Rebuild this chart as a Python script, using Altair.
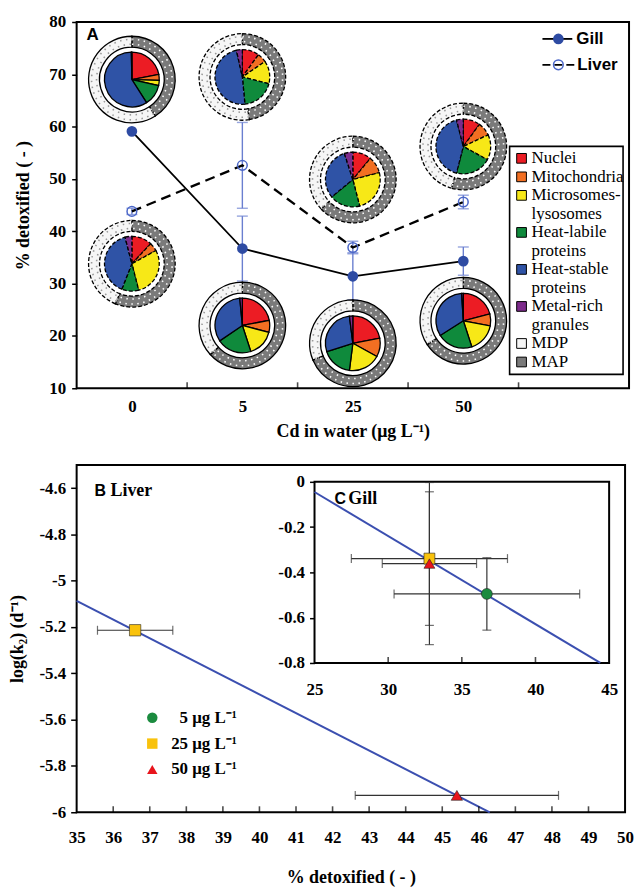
import json
import numpy as np
import pandas as pd
import altair as alt

SERIF = "Liberation Serif"
SANS = "Liberation Sans"

# ---------------- Panel A data ----------------
cd_levels = ["0", "5", "25", "50"]
gill_detox = [59.1, 36.7, 31.4, 34.3]
gill_err = [0.0, 6.2, 4.5, 2.7]
liver_detox = [43.8, 52.6, 36.9, 45.6]
liver_err = [0.6, 8.2, 1.2, 1.3]

fraction_names = ["Nuclei", "Mitochondria", "Microsomes-lysosomes",
                  "Heat-labile proteins", "Heat-stable proteins", "Metal-rich granules"]
pool_names = ["MDP", "MAP"]

# subcellular distribution (%) for each Cd level, in the order of fraction_names
gill_fractions = [
    [22.0, 3.5, 3.0, 12.5, 58.7, 0.3],
    [22.0, 7.0, 16.0, 20.5, 33.0, 1.5],
    [22.0, 11.0, 19.0, 18.0, 28.0, 2.0],
    [21.0, 7.0, 17.0, 21.0, 33.0, 1.0],
]
liver_fractions = [
    [12.0, 5.0, 29.0, 10.0, 40.0, 4.0],
    [10.0, 5.5, 13.5, 19.5, 48.0, 3.5],
    [11.0, 10.0, 25.0, 18.0, 31.0, 5.0],
    [10.0, 8.0, 15.0, 21.0, 42.0, 4.0],
]
# vertical placement of each pie (in % detoxified units)
gill_pie_y = [69.0, 22.0, 18.6, 22.9]
liver_pie_y = [33.8, 69.5, 49.9, 56.2]

# ---------------- Panel B (liver) data ----------------
liver_conc = ["25", "50"]
liver_pct = [36.6, 45.4]
liver_pct_err = [1.03, 2.78]
liver_logk = [-5.214, -5.927]
liver_fit_x = [35.0, 46.3]
liver_fit_y = [-5.087, -6.0]

# ---------------- Panel C (gill inset) data ----------------
gill_conc = ["5", "25", "50"]
gill_pct = [36.7, 32.8, 32.8]
gill_pct_err = [6.3, 5.3, 3.2]
gill_logk = [-0.495, -0.339, -0.361]
gill_logk_err = [0.16, 0.295, 0.358]
gill_fit_x = [25.0, 44.4]
gill_fit_y = [-0.045, -0.8]

a_y_ticks = [10, 20, 30, 40, 50, 60, 70, 80]
b_x_ticks = list(range(35, 51))
b_y_ticks = [-6, -5.8, -5.6, -5.4, -5.2, -5, -4.8, -4.6]
c_x_ticks = [25, 30, 35, 40, 45]
c_y_ticks = [-0.8, -0.6, -0.4, -0.2, 0]

# ---------------- styles ----------------
part_names = fraction_names + pool_names
part_colors = ["#ec1c24", "#f26f22", "#f7e817", "#0f8a3c", "#2f53a6", "#7d2b8b", "#f6f6f6", "#7a7a7a"]
fill_scale = alt.Scale(domain=part_names, range=part_colors)
dot_scale = alt.Scale(domain=pool_names, range=["#9a9a9a", "#ffffff"])
GILL_BLUE = "#2e4ba3"
LIVER_BLUE = "#4a66c8"
EB = "#6a7fd0"
FIT_BLUE = "#3b4fb0"
conc_scale_color = alt.Scale(domain=cd_levels[1:], range=["#1b8b3f", "#f9c20c", "#e8141c"])
conc_scale_shape = alt.Scale(domain=cd_levels[1:], range=["circle", "square", "triangle-up"])

W1, H1 = 555, 368
W2, H2 = 551, 349

# ================= Panel A =================
xsA = alt.Scale(domain=[-0.5, len(cd_levels) + 0.5], nice=False, zero=False)
ysA = alt.Scale(domain=[a_y_ticks[0], a_y_ticks[-1]], nice=False, zero=False)
axXA = alt.Axis(orient="bottom", values=list(range(len(cd_levels))),
                labelExpr=json.dumps(cd_levels) + "[datum.value]",
                ticks=False, tickSize=0, domain=False, grid=False, labelPadding=10,
                titlePadding=8, labelFlush=False, labelOverlap=False)
axYA = alt.Axis(orient="left", values=a_y_ticks, tickSize=5, domain=False, grid=False,
                labelPadding=6, titlePadding=16, labelOverlap=False)
TX_A = "Cd in water (μg L⁻¹)"
TY_A = "% detoxified ( - )"


def xA(f):
    return alt.X(f, type="quantitative", scale=xsA, axis=axXA, title=TX_A)


def yA(f):
    return alt.Y(f, type="quantitative", scale=ysA, axis=axYA, title=TY_A)


dfA = pd.DataFrame({"i": list(range(len(cd_levels))), "gill": gill_detox, "gill_err": gill_err,
                    "liver": liver_detox, "liver_err": liver_err})


def err_layers(val, err):
    base = (alt.Chart(dfA).transform_filter(f"datum.{err} > 0")
            .transform_calculate(lo=f"datum.{val} - datum.{err}", hi=f"datum.{val} + datum.{err}"))
    rule = base.mark_rule(color=EB, strokeWidth=1.4).encode(x=xA("i"), y=yA("lo"), y2=alt.Y2("hi"))
    caps = (base.transform_fold(["lo", "hi"], as_=["end", "yv"])
            .mark_tick(orient="horizontal", color=EB, size=11, thickness=1.4)
            .encode(x=xA("i"), y=yA("yv")))
    return [rule, caps]


def pie_frames(fractions, detox, pie_y):
    slices, rings = [], []
    for i, (fr, d, py) in enumerate(zip(fractions, detox, pie_y)):
        edges = np.concatenate([[0.0], np.cumsum(fr)]) / float(np.sum(fr)) * 2 * np.pi
        for k, name in enumerate(fraction_names):
            slices.append({"i": i, "py": py, "part": name, "a0": float(edges[k]), "a1": float(edges[k + 1])})
        cut = (100.0 - d) / 100.0 * 2 * np.pi
        rings.append({"i": i, "py": py, "part": "MAP", "a0": 0.0, "a1": cut})
        rings.append({"i": i, "py": py, "part": "MDP", "a0": cut, "a1": 2 * np.pi})
    return pd.DataFrame(slices), pd.DataFrame(rings)


def arcs(df, r_outer, r_inner, dashed):
    kw = dict(radius=r_outer, stroke="black", strokeWidth=1.3)
    if r_inner:
        kw["radius2"] = r_inner
    if dashed:
        kw["strokeDash"] = [4, 2]
    return alt.Chart(df).mark_arc(**kw).encode(
        x=xA("i"), y=yA("py"),
        theta=alt.Theta("a0:Q", scale=None), theta2=alt.Theta2("a1"),
        fill=alt.Fill("part:N", scale=fill_scale, legend=None))


def ring_dots(df):
    # dotted texture inside the MDP / MAP ring
    return alt.Chart(df).mark_arc(radius=40.5, radius2=35.5, fillOpacity=0, strokeWidth=1.6,
                                  strokeDash=[1.5, 4.5]).encode(
        x=xA("i"), y=yA("py"),
        theta=alt.Theta("a0:Q", scale=None), theta2=alt.Theta2("a1"),
        stroke=alt.Stroke("part:N", scale=dot_scale, legend=None))


g_slices, g_rings = pie_frames(gill_fractions, gill_detox, gill_pie_y)
l_slices, l_rings = pie_frames(liver_fractions, liver_detox, liver_pie_y)

gill_line = alt.Chart(dfA).mark_line(color="black", strokeWidth=1.8).encode(x=xA("i"), y=yA("gill"))
liver_line = alt.Chart(dfA).mark_line(color="black", strokeWidth=2.3, strokeDash=[10, 6]).encode(
    x=xA("i"), y=yA("liver"))
gill_pts = alt.Chart(dfA).mark_point(filled=True, shape="circle", size=115, color=GILL_BLUE, opacity=1).encode(
    x=xA("i"), y=yA("gill"))
liver_pts = alt.Chart(dfA).mark_point(shape="circle", size=95, color=LIVER_BLUE, strokeWidth=1.5,
                                      opacity=1).encode(x=xA("i"), y=yA("liver"))

dfTickA = pd.DataFrame({"t": [k + 0.5 for k in range(len(cd_levels))]})
ticksA = alt.Chart(dfTickA).mark_tick(orient="vertical", size=6, thickness=1.6, color="black",
                                      yOffset=-3).encode(x=xA("t"), y=alt.value(H1))

# organ legend
orgs = pd.DataFrame({"name": ["Gill", "Liver"]})
leg_g_line = alt.Chart(orgs.iloc[[0]]).mark_rule(color="black", strokeWidth=1.8).encode(
    x=alt.value(468), x2=alt.value(498), y=alt.value(17))
leg_g_pt = alt.Chart(orgs.iloc[[0]]).mark_point(filled=True, shape="circle", size=115, color=GILL_BLUE,
                                                opacity=1).encode(x=alt.value(484), y=alt.value(17))
leg_g_txt = alt.Chart(orgs.iloc[[0]]).mark_text(align="left", baseline="middle", font=SANS,
                                                fontWeight="bold", fontSize=17).encode(
    x=alt.value(502), y=alt.value(17), text="name:N")
leg_l_line = alt.Chart(orgs.iloc[[1]]).mark_rule(color="black", strokeWidth=1.8,
                                                 strokeDash=[8, 4, 8, 4, 8]).encode(
    x=alt.value(468), x2=alt.value(500), y=alt.value(43))
leg_l_pt = alt.Chart(orgs.iloc[[1]]).mark_point(shape="circle", size=95, color=LIVER_BLUE, strokeWidth=1.5,
                                                opacity=1).encode(x=alt.value(484), y=alt.value(43))
leg_l_txt = alt.Chart(orgs.iloc[[1]]).mark_text(align="left", baseline="middle", font=SANS,
                                                fontWeight="bold", fontSize=17).encode(
    x=alt.value(503), y=alt.value(43), text="name:N")

# fraction legend
legend_wrapped = ["Nuclei", "Mitochondria", "Microsomes-\nlysosomes", "Heat-labile\nproteins",
                  "Heat-stable\nproteins", "Metal-rich\ngranules", "MDP", "MAP"]
LG_X0, LG_Y0, LG_STEP = 447, 137, 18.6
sq_rows, txt_rows, line = [], [], 0
for name, wrapped in zip(part_names, legend_wrapped):
    sq_rows.append({"part": name, "ly": LG_Y0 + line * LG_STEP})
    for piece in wrapped.split("\n"):
        txt_rows.append({"txt": piece, "ly": LG_Y0 + line * LG_STEP})
        line += 1
df_sq = pd.DataFrame(sq_rows)
df_txt = pd.DataFrame(txt_rows)

legend_box = alt.Chart(pd.DataFrame({"k": [0]})).mark_rect(fill="white", stroke="black", strokeWidth=1.6).encode(
    x=alt.value(435), x2=alt.value(549), y=alt.value(125), y2=alt.value(354))
legend_sq = alt.Chart(df_sq).mark_square(size=95, stroke="black", strokeWidth=1, opacity=1).encode(
    x=alt.value(LG_X0), y=alt.Y("ly:Q", scale=None, axis=None),
    fill=alt.Fill("part:N", scale=fill_scale, legend=None))
legend_txt = alt.Chart(df_txt).mark_text(align="left", baseline="middle", font=SERIF, fontSize=17,
                                         color="black").encode(
    x=alt.value(LG_X0 + 10), y=alt.Y("ly:Q", scale=None, axis=None), text="txt:N")

label_A = alt.Chart(pd.DataFrame({"t": ["A"]})).mark_text(font=SANS, fontWeight="bold", fontSize=17,
                                                          align="center", baseline="middle").encode(
    x=alt.value(16), y=alt.value(13), text="t:N")

top_layers = (err_layers("liver", "liver_err") + err_layers("gill", "gill_err")
              + [liver_line, gill_line, liver_pts, gill_pts,
                 arcs(g_rings, 43.5, 32.5, False), ring_dots(g_rings), arcs(g_slices, 27.5, 0, False),
                 arcs(l_rings, 43.5, 32.5, True), ring_dots(l_rings), arcs(l_slices, 27.5, 0, True),
                 ticksA, leg_g_line, leg_g_pt, leg_g_txt, leg_l_line, leg_l_pt, leg_l_txt,
                 legend_box, legend_sq, legend_txt, label_A])
top = alt.layer(*top_layers).properties(width=W1, height=H1)

# ================= Panel B =================
xsB = alt.Scale(domain=[b_x_ticks[0], b_x_ticks[-1]], nice=False, zero=False)
ysB = alt.Scale(domain=[-6, -4.5], nice=False, zero=False)
axXB = alt.Axis(orient="bottom", values=b_x_ticks, ticks=False, tickSize=0, domain=False, grid=False,
                labelPadding=17, titlePadding=24, labelFlush=False, labelOverlap=False)
axYB = alt.Axis(orient="left", values=b_y_ticks, tickSize=6, domain=False, grid=False, labelPadding=5,
                titlePadding=12, labelExpr="toString(datum.value)", labelOverlap=False)
TX_B = "% detoxified ( - )"
TY_B = "log(k₂) (d⁻¹)"


def xB(f):
    return alt.X(f, type="quantitative", scale=xsB, axis=axXB, title=TX_B)


def yB(f):
    return alt.Y(f, type="quantitative", scale=ysB, axis=axYB, title=TY_B)


dfB = pd.DataFrame({"conc": liver_conc, "pct": liver_pct, "err": liver_pct_err, "logk": liver_logk})
fitB = alt.Chart(pd.DataFrame({"x": liver_fit_x, "y": liver_fit_y})).mark_line(
    color=FIT_BLUE, strokeWidth=2).encode(x=xB("x"), y=yB("y"))
baseB = alt.Chart(dfB).transform_calculate(lo="datum.pct - datum.err", hi="datum.pct + datum.err")
errB = baseB.mark_rule(color="#333333", strokeWidth=1.2).encode(x=xB("lo"), x2=alt.X2("hi"), y=yB("logk"))
capsB = (baseB.transform_fold(["lo", "hi"], as_=["end", "xv"])
         .mark_tick(orient="vertical", color="#333333", size=9, thickness=1.2)
         .encode(x=xB("xv"), y=yB("logk")))
ptsB = alt.Chart(dfB).mark_point(filled=True, size=130, opacity=1, stroke="#222222", strokeWidth=0.6).encode(
    x=xB("pct"), y=yB("logk"),
    shape=alt.Shape("conc:N", scale=conc_scale_shape, legend=None),
    color=alt.Color("conc:N", scale=conc_scale_color, legend=None))
ticksB = alt.Chart(pd.DataFrame({"t": b_x_ticks[1:-1]})).mark_tick(
    orient="vertical", size=6, thickness=1.6, color="black", yOffset=-3).encode(x=xB("t"), y=alt.value(H2))

# concentration legend
df_leg_b = pd.DataFrame({"conc": cd_levels[1:], "lab": [c + " μg L⁻¹" for c in cd_levels[1:]],
                         "row": list(range(len(cd_levels) - 1))})
leg_b_base = alt.Chart(df_leg_b).transform_calculate(ly="254 + 26 * datum.row")
leg_b_sym = leg_b_base.mark_point(filled=True, size=110, opacity=1).encode(
    x=alt.value(76), y=alt.Y("ly:Q", scale=None, axis=None),
    shape=alt.Shape("conc:N", scale=conc_scale_shape, legend=None),
    color=alt.Color("conc:N", scale=conc_scale_color, legend=None))
leg_b_txt = leg_b_base.mark_text(align="right", baseline="middle", font=SERIF, fontWeight="bold",
                                 fontSize=17, color="black").encode(
    x=alt.value(161), y=alt.Y("ly:Q", scale=None, axis=None), text="lab:N")

lab_B = alt.Chart(pd.DataFrame({"t": ["B"]})).mark_text(font=SANS, fontWeight="bold", fontSize=16,
                                                        align="left", baseline="middle").encode(
    x=alt.value(18), y=alt.value(26), text="t:N")
lab_Liver = alt.Chart(pd.DataFrame({"t": ["Liver"]})).mark_text(font=SERIF, fontWeight="bold", fontSize=18,
                                                                align="left", baseline="middle").encode(
    x=alt.value(34), y=alt.value(26), text="t:N")

main_B = alt.layer(fitB, errB, capsB, ptsB, ticksB, leg_b_sym, leg_b_txt, lab_B, lab_Liver)

# ================= Panel C (inset) =================
C_X0, C_X1, C_Y0, C_Y1 = 239, 535, 199, 17
xsC = alt.Scale(domain=[c_x_ticks[0], c_x_ticks[-1]], range=[C_X0, C_X1], nice=False, zero=False)
ysC = alt.Scale(domain=[c_y_ticks[0], c_y_ticks[-1]], range=[C_Y0, C_Y1], nice=False, zero=False)
axXC = alt.Axis(orient="bottom", offset=-(H2 - C_Y0), values=c_x_ticks, ticks=False, tickSize=0,
                domain=False, grid=False, labelPadding=19, labelFlush=False, labelOverlap=False, title=None)
axYC = alt.Axis(orient="left", offset=-C_X0, values=c_y_ticks, tickSize=5, domain=False, grid=False,
                labelPadding=5, labelExpr="toString(datum.value)", labelOverlap=False, title=None)


def xC(f):
    return alt.X(f, type="quantitative", scale=xsC, axis=axXC)


def yC(f):
    return alt.Y(f, type="quantitative", scale=ysC, axis=axYC)


frameC = alt.Chart(pd.DataFrame({"x0": [c_x_ticks[0]], "x1": [c_x_ticks[-1]],
                                 "y0": [c_y_ticks[0]], "y1": [c_y_ticks[-1]]})).mark_rect(
    fill="white", stroke="black", strokeWidth=2).encode(
    x=xC("x0"), x2=alt.X2("x1"), y=yC("y0"), y2=alt.Y2("y1"))
fitC = alt.Chart(pd.DataFrame({"x": gill_fit_x, "y": gill_fit_y})).mark_line(
    color=FIT_BLUE, strokeWidth=2).encode(x=xC("x"), y=yC("y"))
dfC = pd.DataFrame({"conc": gill_conc, "pct": gill_pct, "xerr": gill_pct_err,
                    "logk": gill_logk, "yerr": gill_logk_err})
baseC = alt.Chart(dfC).transform_calculate(
    xlo="datum.pct - datum.xerr", xhi="datum.pct + datum.xerr",
    ylo="datum.logk - datum.yerr", yhi="min(0, datum.logk + datum.yerr)")
errCx = baseC.mark_rule(color="#333333", strokeWidth=1.2).encode(x=xC("xlo"), x2=alt.X2("xhi"), y=yC("logk"))
errCy = baseC.mark_rule(color="#333333", strokeWidth=1.2).encode(x=xC("pct"), y=yC("ylo"), y2=alt.Y2("yhi"))
capsCx = (baseC.transform_fold(["xlo", "xhi"], as_=["end", "xv"])
          .mark_tick(orient="vertical", color="#333333", size=9, thickness=1.2)
          .encode(x=xC("xv"), y=yC("logk")))
capsCy = (baseC.transform_fold(["ylo", "yhi"], as_=["end", "yv"])
          .mark_tick(orient="horizontal", color="#333333", size=9, thickness=1.2)
          .encode(x=xC("pct"), y=yC("yv")))
ptsC = alt.Chart(dfC).mark_point(filled=True, size=120, opacity=1, stroke="#222222", strokeWidth=0.6).encode(
    x=xC("pct"), y=yC("logk"),
    shape=alt.Shape("conc:N", scale=conc_scale_shape, legend=None),
    color=alt.Color("conc:N", scale=conc_scale_color, legend=None))
ticksC = alt.Chart(pd.DataFrame({"t": c_x_ticks[1:-1]})).mark_tick(
    orient="vertical", size=6, thickness=1.6, color="black", yOffset=-3).encode(x=xC("t"), y=alt.value(C_Y0))
lab_C = alt.Chart(pd.DataFrame({"t": ["C"]})).mark_text(font=SANS, fontWeight="bold", fontSize=16,
                                                        align="left", baseline="middle").encode(
    x=alt.value(259), y=alt.value(34), text="t:N")
lab_Gill = alt.Chart(pd.DataFrame({"t": ["Gill"]})).mark_text(font=SERIF, fontWeight="bold", fontSize=18,
                                                              align="left", baseline="middle").encode(
    x=alt.value(273), y=alt.value(34), text="t:N")

inset_C = alt.layer(frameC, fitC, errCx, errCy, capsCx, capsCy, ptsC, ticksC, lab_C, lab_Gill)

bottom = (alt.layer(main_B, inset_C)
          .resolve_scale(x="independent", y="independent")
          .properties(width=W2, height=H2))

chart = (alt.vconcat(top, bottom, spacing=23)
         .resolve_scale(x="independent", y="independent")
         .configure_view(stroke="black", strokeWidth=2)
         .configure_axis(labelFont=SERIF, labelFontWeight="bold", labelFontSize=17, labelColor="black",
                         titleFont=SERIF, titleFontWeight="bold", titleFontSize=18, titleColor="black",
                         tickColor="black", tickWidth=1.5)
         .properties(padding={"left": 8, "top": 10, "right": 2, "bottom": 0}))

chart.save("out.html", embed_options={"renderer": "svg", "actions": False})
